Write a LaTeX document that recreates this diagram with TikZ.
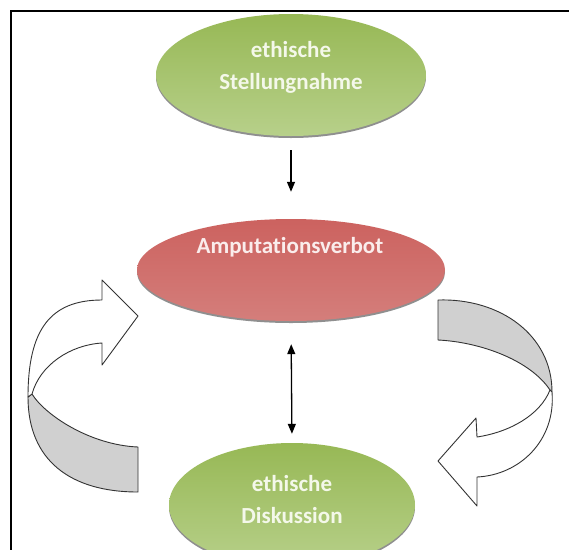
\documentclass[tikz,border=0pt]{standalone}
\usepackage{fontspec}
\setmainfont{Carlito}[Ligatures=NoCommon]
\usetikzlibrary{shapes.geometric,arrows.meta,shadows}
\definecolor{grA}{HTML}{97B855}
\definecolor{grB}{HTML}{9BBB59}
\definecolor{grC}{HTML}{B7D08A}
\definecolor{rdA}{HTML}{CC625F}
\definecolor{rdB}{HTML}{BF4B48}
\definecolor{rdC}{HTML}{D47E7B}
\definecolor{txG}{HTML}{F4F8EA}
\definecolor{txR}{HTML}{FAEDEC}
\definecolor{bandgray}{HTML}{D0D0D0}
\tikzset{
  blob/.style={ellipse, inner sep=0pt, draw=none,
    drop shadow={shadow xshift=0pt, shadow yshift=-2pt, opacity=0.55, fill=black!80}},
  greenblob/.style={blob, top color=grA, middle color=grB, bottom color=grC},
  redblob/.style={blob, top color=rdA, middle color=rdB, bottom color=rdC},
  lbl/.style={font=\bfseries\fontsize{23}{32}\selectfont, align=center, inner sep=0pt},
  conn/.style={line width=1.3pt, black},
  band/.style={draw=black!80, line width=0.9pt, line join=round},
}
\begin{document}
\begin{tikzpicture}[x=1pt,y=-1pt]
\useasboundingbox (0,0) rectangle (569,549);
\fill[white] (0,0) rectangle (569,549);
% frame
\draw[line width=2pt] (11,560) -- (11,11) -- (580,11);

% ellipses
\node[greenblob, minimum width=270pt, minimum height=122pt] (top) at (291,75) {};
\node[redblob, minimum width=308pt, minimum height=102pt] (mid) at (291,270) {};
\node[greenblob, minimum width=246pt, minimum height=124pt] (bot) at (292,505) {};

\node[lbl, text=txG] (ttop) at (291,67) {ethische\\Stellungnahme};
\node[lbl, text=txR] (tmid) at (290,247) {Amputationsverbot};
\node[lbl, text=txG] (tbot) at (292,500) {ethische\\Diskussion};

% connectors
\draw[conn, -{Triangle[length=10pt,width=8pt]}, shorten <=14pt, shorten >=27pt] (top.south) -- (mid.north);
\draw[conn, {Triangle[length=10pt,width=8pt]}-{Triangle[length=10pt,width=8pt]}, shorten <=23pt, shorten >=9pt] (mid.south) -- (bot.north);

% left curved arrow
\filldraw[band, fill=bandgray]
  (32,394) .. controls (45,415) and (90,445) .. (138,447)
  -- (138,492) .. controls (70,492) and (28,460) .. (28,397) -- cycle;
\filldraw[band, fill=white]
  (28,397) .. controls (28,330) and (50,300) .. (102,300)
  -- (102,280) -- (138,316) -- (102,365) -- (102,343)
  .. controls (70,345) and (40,365) .. (32,394) -- cycle;

% right curved arrow
\filldraw[band, fill=bandgray]
  (438,300) .. controls (500,298) and (552,335) .. (552,392)
  -- (550,390) .. controls (530,360) and (480,342) .. (438,340) -- cycle;
\filldraw[band, fill=white]
  (552,392) .. controls (556,440) and (520,475) .. (477,477)
  -- (477,506) -- (438,461) -- (476,418) -- (477,437)
  .. controls (510,432) and (540,415) .. (550,390) -- cycle;
\end{tikzpicture}
\end{document}
